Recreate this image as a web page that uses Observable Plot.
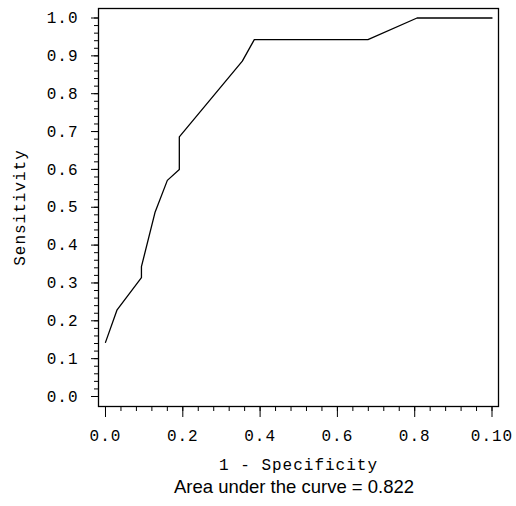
<!DOCTYPE html>
<html>
<head>
<meta charset="utf-8">
<script src="https://cdn.jsdelivr.net/npm/d3@7"></script>
<script src="https://cdn.jsdelivr.net/npm/@observablehq/plot@0.6"></script>
<style>
  html, body { margin: 0; padding: 0; background: #fff; overflow: hidden; }
  #wrap { position: relative; width: 516px; height: 506px; }
  #caption { position: absolute; left: 94px; width: 400px; top: 476px; text-align: center;
             font-family: "Liberation Sans", Arial, Helvetica, sans-serif; font-size: 18.5px; color: #000; }
</style>
</head>
<body>
<div id="wrap">
  <div id="chart"></div>
  <div id="caption"></div>
</div>
<script>
// ROC curve vertices (1 - Specificity, Sensitivity)
const fpr = [0.000, 0.030, 0.093, 0.093, 0.128, 0.160, 0.191, 0.191, 0.354, 0.385, 0.679, 0.806, 1.000];
const tpr = [0.143, 0.229, 0.314, 0.343, 0.486, 0.571, 0.600, 0.686, 0.886, 0.943, 0.943, 1.000, 1.000];

const xTicks = [0, 0.2, 0.4, 0.6, 0.8, 1.0];
const xTickLabels = ["0.0", "0.2", "0.4", "0.6", "0.8", "0.10"];
const yTicks = [0, 0.1, 0.2, 0.3, 0.4, 0.5, 0.6, 0.7, 0.8, 0.9, 1.0];
const yTickLabels = ["0.0", "0.1", "0.2", "0.3", "0.4", "0.5", "0.6", "0.7", "0.8", "0.9", "1.0"];
const xMinor = d3.range(0, 26).map(i => i * 0.04);
const yMinor = d3.range(0, 51).map(i => i * 0.02);

const xLabel = "1 - Specificity";
const yLabel = "Sensitivity";
const captionText = "Area under the curve = 0.822";

const roc = fpr.map((x, i) => ({x, y: tpr[i]}));

const chart = Plot.plot({
  width: 516,
  height: 478,
  marginLeft: 98,
  marginRight: 18,
  marginTop: 8,
  marginBottom: 72,
  style: {fontFamily: "'Liberation Mono', 'Courier New', monospace", fontSize: "16px", letterSpacing: "1px", color: "#000", background: "#fff"},
  x: {domain: [-0.0181, 1.0168]},
  y: {domain: [-0.0264, 1.0251]},
  marks: [
    Plot.frame({stroke: "#000", strokeWidth: 1.3}),
    Plot.axisX({ticks: xMinor, tickSize: 5, text: null, label: null, stroke: "#000"}),
    Plot.axisX({ticks: xTicks, tickSize: 11, tickPadding: 12, tickFormat: (d) => xTickLabels[xTicks.indexOf(d)], label: xLabel, labelAnchor: "center", labelOffset: 63, labelArrow: "none", stroke: "#000"}),
    Plot.axisY({ticks: yMinor, tickSize: 4, text: null, label: null, stroke: "#000"}),
    Plot.axisY({ticks: yTicks, tickSize: 7, tickPadding: 13, tickFormat: (d) => yTickLabels[yTicks.indexOf(d)], label: yLabel, labelAnchor: "center", labelOffset: 85, labelArrow: "none", stroke: "#000"}),
    Plot.line(roc, {x: "x", y: "y", stroke: "#000", strokeWidth: 1.3})
  ]
});
document.getElementById("chart").appendChild(chart);
document.getElementById("caption").textContent = captionText;
</script>
</body>
</html>
